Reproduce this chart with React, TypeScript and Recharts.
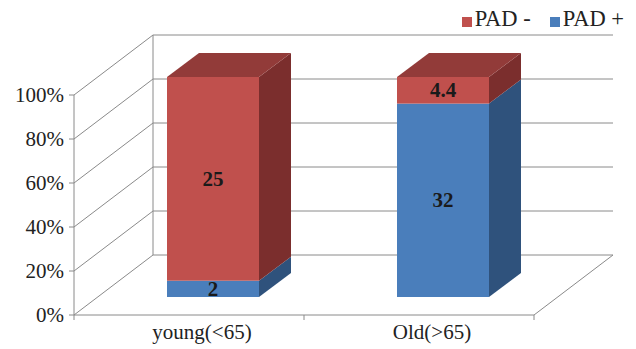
import React from 'react';
import { BarChart, Bar, XAxis, YAxis, CartesianGrid, Legend, LabelList } from 'recharts';

const categories = ['young(<65)', 'Old(>65)'];
const padPositive = [2, 32];
const padNegative = [25, 4.4];
const yTicks = [0, 0.2, 0.4, 0.6, 0.8, 1];

const data = categories.map((name, i) => ({
  name,
  padPos: padPositive[i],
  padNeg: padNegative[i],
}));

// Oblique projection used for the 3D look
const WALL_DX = 79;
const WALL_DY = -60;
const BAR_SHIFT_X = 24;
const BAR_SHIFT_Y = -18;
const BAR_DX = 32;
const BAR_DY = -24;
const GRID = '#8a8a8a';
const FONT = '"Liberation Serif", "Times New Roman", serif';
const TEXT = '#222222';

const RED = { front: '#C0504D', side: '#7B2E2D', top: '#923B39' };
const BLUE = { front: '#4A7EBB', side: '#2F527C', top: '#3A6799' };

const makeShape = (c: typeof RED, withTop: boolean) => (props: any) => {
  const { x, y, width, height } = props;
  if (height == null || width == null) return null;
  const fx = x + BAR_SHIFT_X;
  const fy = y + BAR_SHIFT_Y;
  const w = width;
  const h = height;
  const side = `M${fx + w},${fy} L${fx + w + BAR_DX},${fy + BAR_DY} L${fx + w + BAR_DX},${fy + h + BAR_DY} L${fx + w},${fy + h} Z`;
  const top = `M${fx},${fy} L${fx + BAR_DX},${fy + BAR_DY} L${fx + w + BAR_DX},${fy + BAR_DY} L${fx + w},${fy} Z`;
  return (
    <g>
      <path d={side} fill={c.side} />
      {withTop && <path d={top} fill={c.top} />}
      <rect x={fx} y={fy} width={w} height={h} fill={c.front} />
    </g>
  );
};

const gridLine = (props: any) => {
  const { x1, y1, x2, y, height, index } = props;
  const bx1 = x1 + WALL_DX;
  const bx2 = x2 + WALL_DX;
  const by = y1 + WALL_DY;
  const isFloor = Math.abs(y1 - (y + height)) < 0.5;
  const mid = (x1 + x2) / 2;
  return (
    <g key={`grid-${index}`}>
      <line x1={x1} y1={y1} x2={bx1} y2={by} stroke={GRID} />
      <line x1={bx1} y1={by} x2={bx2} y2={by} stroke={GRID} />
      {isFloor && (
        <g>
          <line x1={x1} y1={y1} x2={x2} y2={y1} stroke={GRID} />
          <line x1={x2} y1={y1} x2={bx2} y2={by} stroke={GRID} />
          <line x1={bx1} y1={by} x2={bx1} y2={y + WALL_DY} stroke={GRID} />
          {[x1, mid, x2].map((tx, i) => (
            <line key={i} x1={tx} y1={y1} x2={tx} y2={y1 + 5} stroke={GRID} />
          ))}
        </g>
      )}
    </g>
  );
};

const CategoryTick = (props: any) => {
  const { x, y, payload } = props;
  return (
    <text x={x + 13} y={y} dy={16} textAnchor="middle" fontFamily={FONT} fontSize={21} fill={TEXT}>
      {payload.value}
    </text>
  );
};

const renderValue = (props: any) => {
  const { x, y, width, height, value } = props;
  return (
    <text
      x={x + width / 2 + BAR_SHIFT_X}
      y={y + height / 2 + BAR_SHIFT_Y}
      textAnchor="middle"
      dominantBaseline="central"
      fontFamily={FONT}
      fontWeight="bold"
      fontSize={21}
      fill="#1a1a1a"
    >
      {value}
    </text>
  );
};

const LegendContent = () => {
  const items = [
    { label: 'PAD -', color: RED.front },
    { label: 'PAD +', color: BLUE.front },
  ];
  return (
    <div
      style={{
        display: 'flex',
        alignItems: 'center',
        height: 30,
        fontFamily: FONT,
        fontSize: 22.5,
        color: TEXT,
        whiteSpace: 'nowrap',
      }}
    >
      {items.map((it, i) => (
        <div key={it.label} style={{ display: 'flex', alignItems: 'center', marginLeft: i === 0 ? 0 : 19 }}>
          <span
            style={{
              display: 'inline-block',
              width: 10,
              height: 10,
              background: it.color,
              marginRight: 3,
              position: 'relative',
              top: 3,
            }}
          />
          <span>{it.label}</span>
        </div>
      ))}
    </div>
  );
};

export default function App() {
  return (
    <div style={{ position: 'absolute', left: 0, top: 0, width: 636, height: 349, background: '#fff' }}>
      <BarChart
        width={636}
        height={349}
        data={data}
        stackOffset="expand"
        barCategoryGap="30%"
        margin={{ top: 65, right: 102, bottom: 4, left: 0 }}
      >
        <CartesianGrid vertical={false} horizontal={gridLine} />
        <XAxis dataKey="name" tickLine={false} axisLine={false} tick={<CategoryTick />} height={30} />
        <YAxis
          type="number"
          domain={[0, 1]}
          ticks={yTicks}
          tickFormatter={(v: number) => `${Math.round(v * 100)}%`}
          width={74}
          tickSize={5}
          tickMargin={5}
          axisLine={{ stroke: GRID }}
          tickLine={{ stroke: GRID }}
          tick={{ fontFamily: FONT, fontSize: 21, fill: TEXT }}
        />
        <Legend
          verticalAlign="top"
          align="right"
          content={<LegendContent />}
          wrapperStyle={{ top: 4, right: 12, left: 'auto', width: 'auto' }}
        />
        <Bar dataKey="padPos" stackId="a" isAnimationActive={false} shape={makeShape(BLUE, false)}>
          <LabelList dataKey="padPos" content={renderValue} />
        </Bar>
        <Bar dataKey="padNeg" stackId="a" isAnimationActive={false} shape={makeShape(RED, true)}>
          <LabelList dataKey="padNeg" content={renderValue} />
        </Bar>
      </BarChart>
    </div>
  );
}
